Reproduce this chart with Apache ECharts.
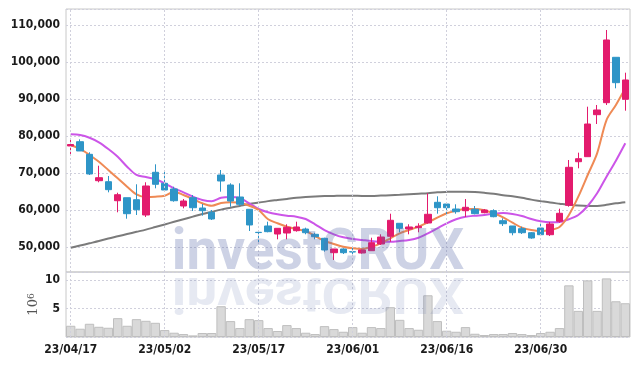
<!DOCTYPE html>
<html><head><meta charset="utf-8">
<script src="https://cdn.jsdelivr.net/npm/echarts@6/dist/echarts.min.js"></script>
<style>html,body{margin:0;padding:0;background:#fff}#c{width:639px;height:366px}</style>
</head><body><div id="c"></div>
<script>
const dates = ['23/04/17','23/04/18','23/04/19','23/04/20','23/04/21','23/04/24','23/04/25','23/04/26','23/04/27','23/04/28',
'23/05/02','23/05/03','23/05/04','23/05/08','23/05/09','23/05/10','23/05/11','23/05/12','23/05/15','23/05/16',
'23/05/17','23/05/18','23/05/19','23/05/22','23/05/23','23/05/24','23/05/25','23/05/26','23/05/30','23/05/31',
'23/06/01','23/06/02','23/06/05','23/06/07','23/06/08','23/06/09','23/06/12','23/06/13','23/06/14','23/06/15',
'23/06/16','23/06/19','23/06/20','23/06/21','23/06/22','23/06/23','23/06/26','23/06/27','23/06/28','23/06/29',
'23/06/30','23/07/03','23/07/04','23/07/05','23/07/06','23/07/07','23/07/10','23/07/11','23/07/12','23/07/13'];
const openP = [77300,78460,75050,67920,67650,62510,63320,62780,58650,70190,
67220,65680,61080,63320,60540,59380,69460,66760,63510,60190,
53970,55680,53510,53780,54410,54860,53430,52350,48460,49460,
48730,48380,49000,50810,52890,56410,54860,55220,56490,62080,
61620,60270,59810,60190,59270,59810,57110,55680,54950,53860,
55140,53320,56950,61270,73050,74410,85760,89000,101270,89920];
const closeP = [77700,75950,69730,68730,65490,64130,59000,60080,66490,66950,
65400,62510,62430,60620,59810,57570,67840,62430,61540,55950,
53900,54140,55050,55320,55410,53860,52780,49190,49460,48460,
48650,49190,51160,52700,57220,55050,55410,55600,58840,60620,
60620,59540,60730,59000,60000,58190,56300,53860,53860,52430,
53320,56220,59110,71540,73860,83240,87030,105950,94410,95140];
const lowP = [74600,75950,69460,67490,64780,59380,57650,58650,58110,65860,
65400,62240,60460,59730,58460,57300,64950,60890,61080,54320,
51160,53970,52080,52080,54140,53430,52080,48730,46490,48110,
48030,48200,48920,50540,51430,53970,53430,53970,56300,59000,
58840,59000,58110,58840,59110,58030,55680,53160,53510,52240,
53160,52970,56570,60890,71270,74410,83240,88380,92890,86840];
const highP = [79460,79100,75600,71970,69190,64670,63320,66950,67490,72350,
70620,66300,62970,64050,61620,60000,70810,67220,67220,60190,
54320,56840,55050,56140,56840,55220,53860,52510,49460,49650,
49920,49250,52510,53430,59000,56410,56140,56410,64510,63700,
61620,61540,62970,61080,60270,60190,57760,55680,55490,54050,
56220,56760,60350,73510,75490,87920,88380,108650,101270,97110];
const ma5 = [77570,76490,74860,73050,70810,68570,66300,64240,63510,63600,
63860,64950,64050,62970,61810,61160,61890,62080,61970,61160,
60000,57490,56410,55490,54860,54320,52970,51620,50810,50080,
49650,49460,50080,51000,52350,53700,54590,55490,56680,57920,
59110,59810,60270,60270,59920,59110,58030,56570,55220,54590,
54320,54590,55400,58650,63600,69460,75320,84320,88380,92890];
const ma10 = [80450,80270,79540,78300,76490,74410,71700,69460,68920,68300,
67220,65860,64780,63600,62700,62350,63320,63510,63160,61810,
60270,59380,58840,58460,58190,57570,56140,54590,53430,52620,
52160,51890,51620,51430,51430,51620,51890,52510,53700,55050,
56410,57490,58190,58460,58650,59000,59190,58920,58380,57570,
56950,56680,56760,57490,58650,61080,64510,69010,73320,78030];
const ma60 = [49800,50400,51000,51600,52300,52900,53500,54100,54700,55400,
56100,56800,57500,58200,58900,59500,60100,60600,61100,61600,
62000,62400,62700,63000,63300,63500,63650,63750,63800,63850,
63850,63800,63800,63900,64000,64100,64250,64400,64550,64800,
64900,64950,64950,64850,64650,64400,64000,63700,63300,62800,
62400,62000,61700,61400,61200,61100,61100,61400,61800,62100];
const volume = [1.97,1.45,2.32,1.79,1.62,3.31,1.97,3.13,2.84,2.49,
1.22,0.75,0.52,0.28,0.70,0.70,5.40,2.79,1.57,3.13,
2.96,1.57,1.05,2.09,1.57,0.75,0.52,1.91,1.39,0.92,
1.74,0.75,1.74,1.57,5.23,3.01,1.57,1.27,7.32,2.79,
1.10,0.92,1.74,0.57,0.35,0.52,0.52,0.70,0.52,0.35,
0.70,0.92,1.57,9.06,4.58,9.93,4.58,10.28,6.27,5.92];
const tickDates = ['23/04/17','23/05/02','23/05/17','23/06/01','23/06/16','23/06/30'];

const FONT = '"DejaVu Sans Condensed", "DejaVu Sans", sans-serif';
const gridLine = {type:[2,2], color:'#d0d0dc', width:1};
const vLines = {silent:true, symbol:'none', label:{show:false}, lineStyle:gridLine, animation:false,
  emphasis:{disabled:true}, data: tickDates.map(d => ({xAxis: d}))};
const fmt = v => (v >= 50000 && Math.abs(v % 10000) < 1e-6) ? String(v).replace(/\B(?=(\d{3})+(?!\d))/g, ',') : '';
const wmStyle = (alpha) => ({text:'investCRUX', font:'bold 58px Roboto, "DejaVu Sans Condensed", sans-serif',
  fill:'rgba(88,105,170,' + alpha + ')', align:'center', verticalAlign:'middle', textAlign:'center', textVerticalAlign:'middle'});
const labelStyle = {fontSize:12, fontFamily:FONT, fontWeight:'bold', color:'#1a1a1a'};

const chart = echarts.init(document.getElementById('c'));
chart.setOption({
  animation: false,
  backgroundColor: '#fff',
  grid: [
    {left:66, right:9, top:9, height:263, show:true, borderColor:'#c8c8c8', borderWidth:1},
    {left:66, right:9, top:272, height:65, show:true, borderColor:'#c8c8c8', borderWidth:1}
  ],
  xAxis: [
    {type:'category', data:dates, gridIndex:0, boundaryGap:true, axisLine:{show:false}, axisTick:{show:false}, axisLabel:{show:false}, splitLine:{show:false}},
    {type:'category', data:dates, gridIndex:1, boundaryGap:true, axisLine:{show:false}, axisTick:{show:false},
     axisLabel:Object.assign({interval:9, margin:7}, labelStyle), splitLine:{show:false}}
  ],
  yAxis: [
    {type:'value', gridIndex:0, min:43243, max:114324, splitNumber:7, axisLine:{show:false}, axisTick:{show:false},
     axisLabel:Object.assign({margin:6, formatter:fmt, showMinLabel:false, showMaxLabel:false}, labelStyle),
     splitLine:{lineStyle:gridLine}},
    {type:'value', gridIndex:1, min:0, max:11.4, interval:5, axisLine:{show:false}, axisTick:{show:false},
     axisLabel:Object.assign({margin:6, showMinLabel:false, showMaxLabel:false}, labelStyle),
     splitLine:{lineStyle:gridLine},
     name:'{a|10}{b|6}', nameLocation:'middle', nameRotate:90, nameGap:26, nameMoveOverlap:false,
     nameTextStyle:{rich:{a:{fontFamily:'DejaVu Serif', fontSize:13, color:'#555'}, b:{fontFamily:'DejaVu Serif', fontSize:9, color:'#555', verticalAlign:'top'}}}}
  ],
  series: [
    {type:'candlestick', xAxisIndex:0, yAxisIndex:0, z:3, barWidth:7,
     data: dates.map((d,i)=>[openP[i], closeP[i], lowP[i], highP[i]]),
     itemStyle:{color:'#e31b6d', color0:'#2e95c7', borderColor:'#e31b6d', borderColor0:'#2e95c7', borderWidth:1},
     markLine: vLines},
    {type:'line', xAxisIndex:0, yAxisIndex:0, data:ma60, symbol:'none', smooth:0.3, lineStyle:{color:'#7b7b7b', width:2}, z:2},
    {type:'line', xAxisIndex:0, yAxisIndex:0, data:ma10, symbol:'none', smooth:0.3, lineStyle:{color:'#cc55e8', width:2}, z:2},
    {type:'line', xAxisIndex:0, yAxisIndex:0, data:ma5, symbol:'none', smooth:0.3, lineStyle:{color:'#ef8a55', width:2}, z:2},
    {type:'bar', xAxisIndex:1, yAxisIndex:1, data:volume, barCategoryGap:'0%',
     itemStyle:{color:'#d9d9d9', borderColor:'#bfbfbf', borderWidth:1}, markLine: vLines}
  ],
  graphic: [
    {type:'text', x:318, y:254, z:100, silent:true, scaleX:0.95, style: wmStyle(0.3)},
    {type:'text', x:318, y:257, z:100, silent:true, originX:0, originY:18, scaleX:0.95, scaleY:-0.85, style: wmStyle(0.15)}
  ]
});
</script></body></html>
